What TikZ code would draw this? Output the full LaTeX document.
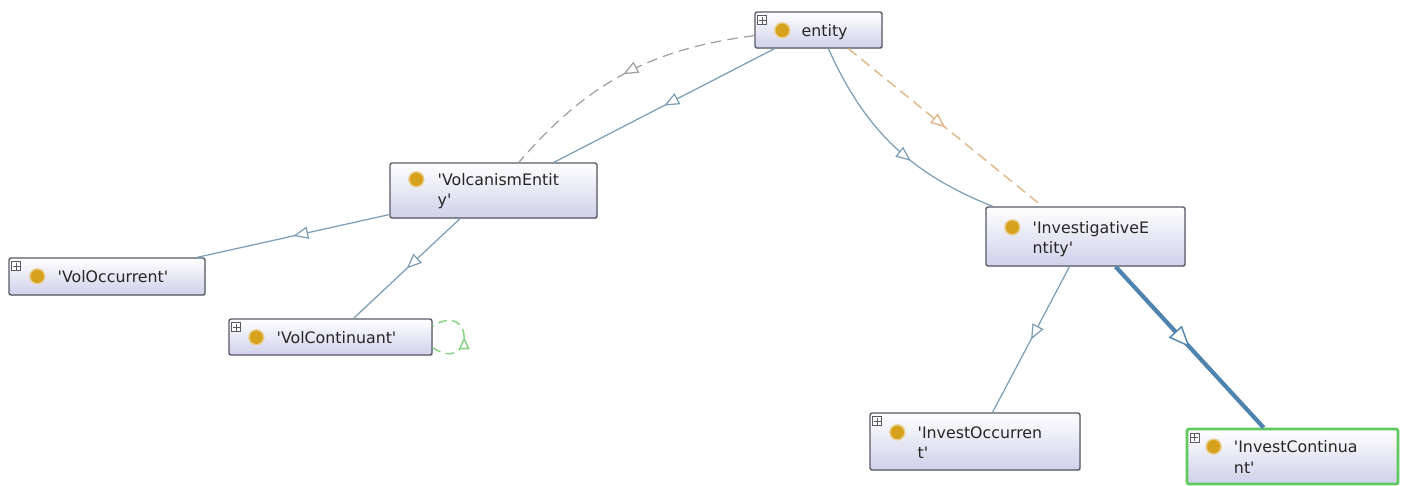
\documentclass[tikz,border=0pt]{standalone}
\usepackage{fontspec}
\setmainfont{DejaVu Sans}
\usetikzlibrary{arrows.meta,decorations.markings,shadows,positioning}
\definecolor{boxline}{HTML}{5A5A66}
\definecolor{boxlav}{HTML}{D0D0EA}
\definecolor{dotgold}{HTML}{D6A21E}
\definecolor{isablue}{HTML}{7D9DB5}
\definecolor{isathick}{HTML}{4F84AE}
\definecolor{dashgrey}{HTML}{A0A0A0}
\definecolor{dashtan}{HTML}{E2BC94}
\definecolor{selgreen}{HTML}{62C862}
\newcommand{\sq}{\textquotesingle}
\begin{document}
\begin{tikzpicture}[x=0.02cm, y=-0.02cm,
    cls/.style={draw=boxline, line width=0.8pt, rounded corners=1.2pt, top color=white, bottom color=boxlav,
      drop shadow={opacity=0.2, shadow xshift=0.7pt, shadow yshift=-0.7pt}},
    dot/.style={circle, fill=dotgold, draw=dotgold!50, line width=0.8pt, minimum size=0.3cm, inner sep=0},
    lbl/.style={anchor=north west, inner sep=0, align=left, text=black!85, font=\fontsize{9}{11.5}\selectfont},
    plusbox/.style={draw=boxline, fill=white, line width=0.3pt, minimum size=0.18cm, inner sep=0, anchor=north west,
      path picture={\draw[line width=0.4pt] ([xshift=0.6pt]path picture bounding box.west) -- ([xshift=-0.6pt]path picture bounding box.east)
        ([yshift=-0.6pt]path picture bounding box.north) -- ([yshift=0.6pt]path picture bounding box.south);}},
    midtri/.style 2 args={postaction={decorate}, decoration={markings, mark=at position #1 with {\arrow{#2}}}},
    isa/.style={draw=isablue, line width=0.7pt, midtri={#1}{Triangle[fill=white, length=8.5pt, width=7pt]}},
    isa/.default=0.5,
    isadash/.style={draw=dashgrey, line width=0.7pt, dash pattern=on 6pt off 3.5pt, midtri={0.5}{Triangle[fill=white, length=8.5pt, width=7pt]}},
    isatan/.style={draw=dashtan, line width=0.9pt, dash pattern=on 6pt off 3.5pt, midtri={0.5}{Triangle[fill=white, length=8.5pt, width=7pt]}},
    isabold/.style={draw=isathick, line width=2.4pt, midtri={0.5}{Triangle[fill=white, line width=0.8pt, length=12pt, width=10pt]}},
    selfloop/.style={draw=selgreen!80, line width=0.8pt, dash pattern=on 5pt off 3pt, midtri={0.5}{Triangle[fill=white, length=7pt, width=6pt]}}
  ]
  \fill[white] (0,0) rectangle (1403,485);
  \useasboundingbox (0,0) rectangle (1403,485);

  % classes
  \node[cls, minimum width=2.54cm, minimum height=0.72cm] (entity) at (818.5,30) {};
  \node[cls, minimum width=4.14cm, minimum height=1.1cm] (volent) at (493.5,190.5) {};
  \node[cls, minimum width=3.92cm, minimum height=0.74cm] (voloc) at (107,276.5) {};
  \node[cls, minimum width=4.06cm, minimum height=0.72cm] (volcont) at (330.5,337) {};
  \node[cls, minimum width=3.98cm, minimum height=1.18cm] (invent) at (1085.5,236.5) {};
  \node[cls, minimum width=4.2cm, minimum height=1.14cm] (invoc) at (975,441.5) {};
  \node[cls, draw=selgreen, line width=1.6pt, minimum width=4.22cm, minimum height=1.1cm] (invcont) at (1292.5,456.5) {};

  % bullets and names
  \node[dot] (entity-dot) at ([shift={(28,19)}]entity.north west) {};
  \node[lbl] (entity-name) at ([shift={(47,13)}]entity.north west) {entity};
  \node[dot] (volent-dot) at ([shift={(27,17)}]volent.north west) {};
  \node[lbl] (volent-name) at ([shift={(48,11)}]volent.north west) {\sq VolcanismEntit\\y\sq};
  \node[dot] (voloc-dot) at ([shift={(29,19)}]voloc.north west) {};
  \node[lbl] (voloc-name) at ([shift={(49,13)}]voloc.north west) {\sq VolOccurrent\sq};
  \node[dot] (volcont-dot) at ([shift={(28,19)}]volcont.north west) {};
  \node[lbl] (volcont-name) at ([shift={(48,13)}]volcont.north west) {\sq VolContinuant\sq};
  \node[dot] (invent-dot) at ([shift={(27,21)}]invent.north west) {};
  \node[lbl] (invent-name) at ([shift={(47,15)}]invent.north west) {\sq InvestigativeE\\ntity\sq};
  \node[dot] (invoc-dot) at ([shift={(28,20)}]invoc.north west) {};
  \node[lbl] (invoc-name) at ([shift={(48,14)}]invoc.north west) {\sq InvestOccurren\\t\sq};
  \node[dot] (invcont-dot) at ([shift={(28,19)}]invcont.north west) {};
  \node[lbl] (invcont-name) at ([shift={(48,13)}]invcont.north west) {\sq InvestContinua\\nt\sq};

  % expand boxes
  \node[plusbox] (entity-plus) at ([shift={(3,4)}]entity.north west) {};
  \node[plusbox] (voloc-plus) at ([shift={(3,4)}]voloc.north west) {};
  \node[plusbox] (volcont-plus) at ([shift={(3,4)}]volcont.north west) {};
  \node[plusbox] (invoc-plus) at ([shift={(3,4)}]invoc.north west) {};
  \node[plusbox] (invcont-plus) at ([shift={(4,5)}]invcont.north west) {};

  % subclass links
  \draw[isa] (entity.203) -- (volent.25);
  \draw[isadash] (entity.185) to[bend right=21] (volent.48);
  \draw[isa=0.6] (entity.-62) to[bend right=22] (invent.162);
  \draw[isatan] (entity.-32) -- (invent.145);
  \draw[isa] (volent.193) -- (voloc.12);
  \draw[isa] (volent.220) -- (volcont.39);
  \draw[selfloop] (volcont.-6) .. controls +(42,27) and +(42,-27) .. (volcont.6);
  \draw[isa] (invent.242) -- (invoc.59);
  \draw[isabold] (invent.-45) -- (invcont.135);
\end{tikzpicture}
\end{document}
